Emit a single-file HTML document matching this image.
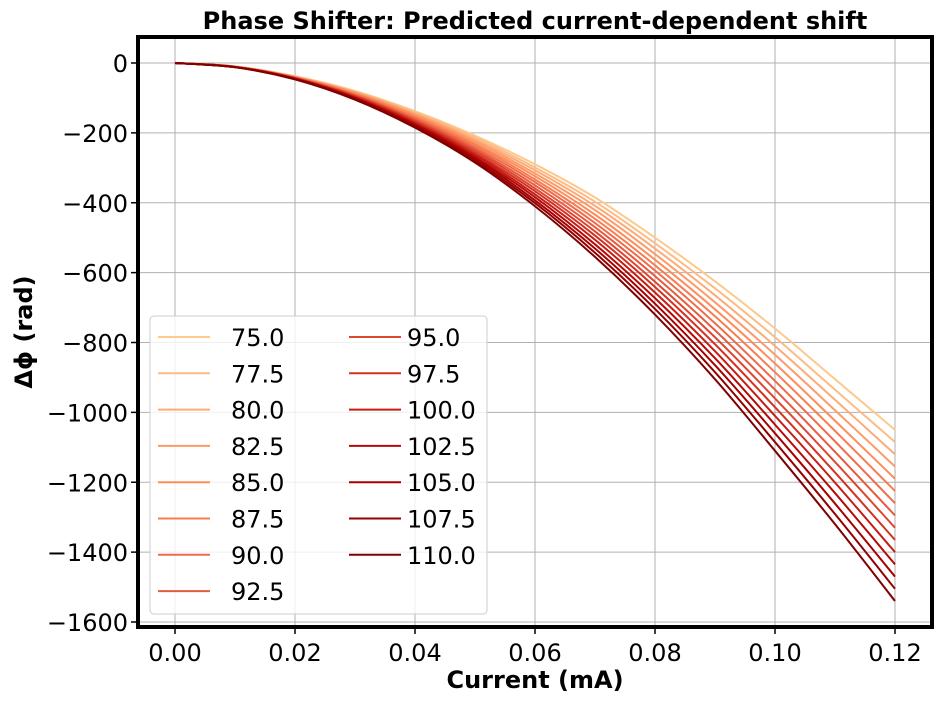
<!DOCTYPE html>
<html><head><meta charset="utf-8"><style>
body{margin:0;background:#fff;}
svg text{font-family:"DejaVu Sans","Liberation Sans",sans-serif;}
</style></head><body>
<svg id="chart" width="944" height="701" viewBox="0 0 944 701" xmlns="http://www.w3.org/2000/svg">
<rect width="944" height="701" fill="#fff"/>
<g id="grid"></g><g id="series"></g><g id="axes"></g><g id="legend"></g>
</svg>
<script>
const xValues=[0,0.01,0.02,0.03,0.04,0.05,0.06,0.07,0.08,0.09,0.10,0.11,0.12];
const seriesLabels=["75.0","77.5","80.0","82.5","85.0","87.5","90.0","92.5","95.0","97.5","100.0","102.5","105.0","107.5","110.0"];
const s75=[0,-10,-38,-80,-138,-208,-290,-385,-500,-625,-760,-905,-1050];
const s775=[0,-10,-39,-82,-141,-213,-299,-397,-516,-645,-785,-935,-1085];
const s80=[0,-10,-39,-84,-145,-219,-307,-409,-531,-665,-810,-964,-1120];
const s825=[0,-10,-40,-85,-148,-224,-316,-421,-547,-685,-835,-994,-1155];
const s85=[0,-11,-41,-87,-151,-230,-324,-434,-563,-705,-860,-1024,-1190];
const s875=[0,-11,-41,-89,-155,-235,-333,-446,-579,-725,-885,-1053,-1225];
const s90=[0,-11,-42,-91,-158,-241,-341,-458,-594,-745,-910,-1083,-1260];
const s925=[0,-11,-43,-93,-162,-247,-350,-470,-610,-765,-935,-1113,-1295];
const s95=[0,-11,-43,-94,-165,-252,-359,-482,-626,-785,-960,-1142,-1330];
const s975=[0,-11,-44,-96,-168,-258,-367,-494,-641,-805,-985,-1172,-1365];
const s100=[0,-11,-44,-98,-172,-263,-376,-506,-657,-825,-1010,-1201,-1400];
const s1025=[0,-12,-45,-100,-175,-269,-384,-519,-673,-845,-1035,-1231,-1435];
const s105=[0,-12,-46,-101,-178,-274,-393,-531,-689,-865,-1060,-1261,-1470];
const s1075=[0,-12,-46,-103,-182,-280,-401,-543,-704,-885,-1085,-1291,-1505];
const s110=[0,-12,-47,-105,-185,-285,-410,-555,-720,-905,-1110,-1320,-1540];
const seriesValues=[s75,s775,s80,s825,s85,s875,s90,s925,s95,s975,s100,s1025,s105,s1075,s110];
const xTicks=[0,0.02,0.04,0.06,0.08,0.10,0.12];
const xTickLabels=["0.00","0.02","0.04","0.06","0.08","0.10","0.12"];
const yTicks=[0,-200,-400,-600,-800,-1000,-1200,-1400,-1600];
const yTickLabels=["0","\u2212200","\u2212400","\u2212600","\u2212800","\u22121000","\u22121200","\u22121400","\u22121600"];
const colors=["#fdc98c","#fdbb84","#fcab77","#fc9a6a","#fc8d59","#f67d53","#ef6c4b","#e65a3f","#dc4731","#d33222","#c51c14","#b50a07","#a60000","#930000","#7f0000"];

const NS="http://www.w3.org/2000/svg";
const L=138,R=932,T=37,B=627;
const FS=24;
const xs=v=>175+(v-0)/0.12*720;
const ys=v=>63+(-v)/1600*559;
function mk(tag,attrs,parent){const e=document.createElementNS(NS,tag);for(const k in attrs)e.setAttribute(k,attrs[k]);parent.appendChild(e);return e;}
function smooth(pts){let d='M'+pts[0][0]+','+pts[0][1];for(let i=0;i<pts.length-1;i++){const p0=pts[Math.max(0,i-1)],p1=pts[i],p2=pts[i+1],p3=pts[Math.min(pts.length-1,i+2)];d+=' C'+(p1[0]+(p2[0]-p0[0])/6)+','+(p1[1]+(p2[1]-p0[1])/6)+' '+(p2[0]-(p3[0]-p1[0])/6)+','+(p2[1]-(p3[1]-p1[1])/6)+' '+p2[0]+','+p2[1];}return d;}
const grid=document.getElementById('grid'),ser=document.getElementById('series'),ax=document.getElementById('axes'),lg=document.getElementById('legend');
xTicks.forEach((t,i)=>{
  const g=mk('line',{x1:xs(t),x2:xs(t),y1:T,y2:B,stroke:'#b0b0b0','stroke-width':1},grid);
  
  
  mk('line',{x1:xs(t),x2:xs(t),y1:B,y2:B+7,stroke:'#000','stroke-width':1.5},ax);
  const tx=mk('text',{x:xs(t),y:B+34,'text-anchor':'middle','font-size':FS},ax);
  tx.textContent=xTickLabels[i];
  
  
});
yTicks.forEach((t,i)=>{
  const g=mk('line',{x1:L,x2:R,y1:ys(t),y2:ys(t),stroke:'#b0b0b0','stroke-width':1},grid);
  
  
  mk('line',{x1:L-7,x2:L,y1:ys(t),y2:ys(t),stroke:'#000','stroke-width':1.5},ax);
  const tx=mk('text',{x:L-10,y:ys(t)+9,'text-anchor':'end','font-size':FS},ax);
  tx.textContent=yTickLabels[i];
  
  
});
seriesValues.forEach((vals,si)=>{
  const pts=vals.map((v,i)=>[xs(xValues[i]),ys(v)]);
  const p=mk('path',{d:smooth(pts),fill:'none',stroke:colors[si],'stroke-width':2},ser);
  
  
});
const fr=mk('rect',{x:L,y:T,width:R-L,height:B-T,fill:'none',stroke:'#000','stroke-width':4},ax);


const ti=mk('text',{x:535,y:29,'text-anchor':'middle','font-size':FS,'font-weight':'bold'},ax);
ti.textContent='Phase Shifter: Predicted current-dependent shift';


const xt=mk('text',{x:535,y:688,'text-anchor':'middle','font-size':FS,'font-weight':'bold'},ax);
xt.textContent='Current (mA)';


const yt=mk('text',{x:0,y:0,'text-anchor':'middle','font-size':FS,'font-weight':'bold',transform:'translate(32,332) rotate(-90)'},ax);
yt.textContent='\u0394\u03d5 (rad)';


const lb=mk('rect',{x:150,y:316,width:337,height:298,rx:4,fill:'#fff','fill-opacity':0.8,stroke:'#ccc','stroke-width':1},lg);


seriesLabels.forEach((lab,i)=>{
  const col=i<8?0:1,row=i<8?i:i-8;
  const lx=col?349:158,tx=col?407:231,y=337+row*36.3;
  const l=mk('line',{x1:lx,x2:lx+52,y1:y,y2:y,stroke:colors[i],'stroke-width':2},lg);
  
  
  const t=mk('text',{x:tx,y:y+9,'font-size':FS},lg);
  t.textContent=lab;
  
  
});
</script>
</body></html>
